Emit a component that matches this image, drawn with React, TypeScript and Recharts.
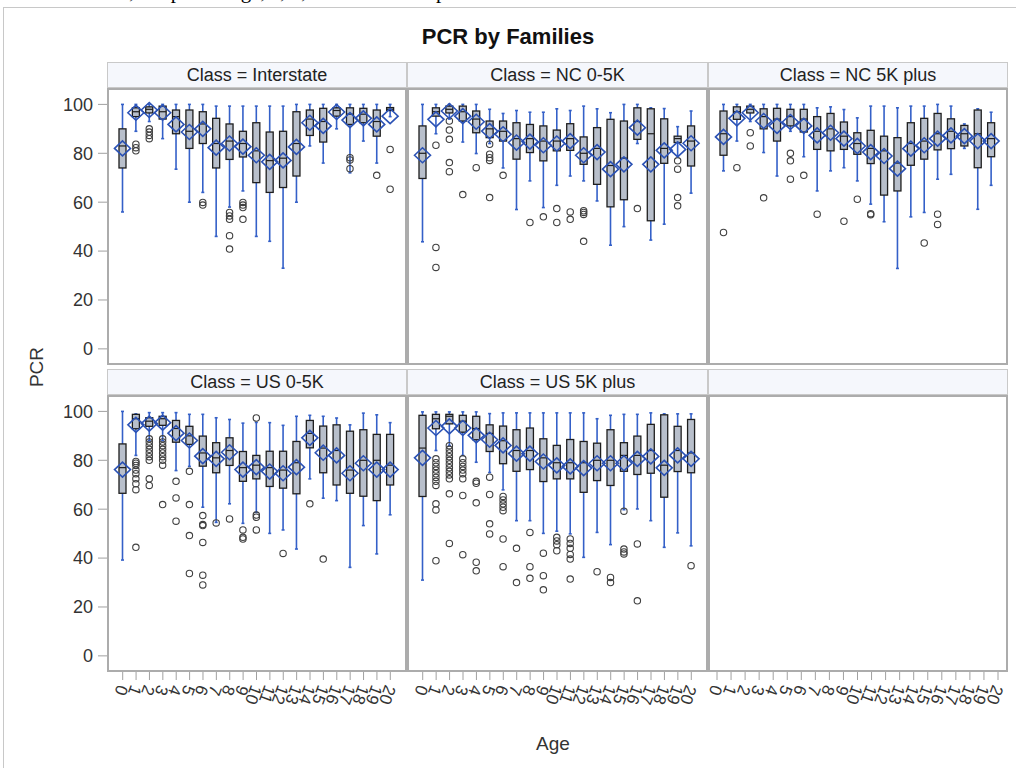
import { ComposedChart, Bar, XAxis, YAxis } from "recharts";

const FONT = "'Liberation Sans', Arial, sans-serif";

const AGES = [
  "0", "1", "2", "3", "4", "5", "6", "7", "8", "9", "10",
  "11", "12", "13", "14", "15", "16", "17", "18", "19", "20",
];
const Y_TICKS = [0, 20, 40, 60, 80, 100];
const CLASSES = ["Interstate", "NC 0-5K", "NC 5K plus", "US 0-5K", "US 5K plus"];

// each row: [low whisker, q1, median, q3, high whisker, mean]
const INTERSTATE_BOX = [
  [56, 74, 83, 90, 100, 82], [89, 95, 97, 98.6, 100, 96.6], [93, 96.5, 98, 99, 100, 97.7],
  [86, 94, 97, 99.3, 100, 96.6], [73.5, 88, 95, 97.7, 100, 91.8], [60, 82, 89, 97.7, 100, 88.7],
  [64, 84, 92, 97, 100, 90], [46, 74, 84, 94.3, 99.3, 82.3], [58, 77.5, 85, 92, 99.3, 84],
  [64.6, 78.5, 84, 89, 99.3, 82.7], [46, 68, 81, 92.5, 99.3, 79.2], [44, 64, 77, 88.7, 99.3, 76.5],
  [33, 66, 78, 89, 99.3, 77.1], [60, 70.7, 84, 97, 100, 82.6], [83, 87.3, 94, 97.7, 100, 92.5],
  [76, 84.6, 93, 98.4, 100, 91.2], [90, 95.2, 97.5, 98.6, 100, 96.9], [72, 91.8, 96, 98.6, 100, 93.6],
  [85, 92.5, 96, 98.4, 100, 94.3], [76, 87, 93, 97.7, 100, 91.8], [95, 97.5, 98, 98.7, 100, 95.2],
];
const INTERSTATE_OUT = [
  [], [83.7, 82.3, 81], [90, 88.7, 87.3, 86], [], [], [], [59.9, 58.8], [],
  [55.8, 54.4, 53, 46.3, 40.8], [59.9, 58.8, 57.8, 53], [], [], [], [], [], [], [],
  [78.2, 77.3, 73.7], [], [71], [81.6, 65.3],
];

const NC_SMALL_BOX = [
  [43.8, 69.7, 80, 91.2, 100, 79.2], [88, 95.2, 97, 98.6, 100, 93.9], [94, 96.5, 98, 99.3, 100, 97.3],
  [84.6, 93.2, 97, 99.3, 100, 95.2], [79.9, 88.4, 94, 97.3, 100, 92.9], [84, 86.4, 90, 93.2, 98, 89.1],
  [74, 85, 89, 93.2, 96.3, 87.8], [57, 77.6, 86, 92.5, 97.5, 84.4], [68.7, 80.3, 86, 91.8, 96.8, 84.8],
  [57.8, 76.9, 85, 91.2, 96.8, 83.3], [66.9, 81, 85, 89.5, 98.2, 84], [70.7, 81.2, 86, 92.1, 97.5, 85],
  [68.7, 75.5, 80, 86.7, 99.3, 79.2], [60.5, 67.3, 82, 90.5, 98.2, 80.5], [42.4, 58.1, 75, 93.9, 96.6, 73.5],
  [50, 61, 78, 93.2, 100, 75.5], [84, 85.7, 93, 98.6, 100, 90.5], [44.5, 52.4, 88, 98.2, 98.6, 75.5],
  [51, 75.9, 82, 94.1, 98.3, 81.2], [79, 84.4, 86, 87, 90.9, 81.6], [63.7, 74.8, 85, 91.2, 97.3, 84.1],
];
const NC_SMALL_OUT = [
  [], [83.3, 41.5, 33.3], [93.2, 89.5, 85.7, 76.2, 72.5], [63.1], [74.1],
  [83.7, 79.6, 78.2, 77.1, 61.9], [71], [], [51.7], [54], [57.4, 51.7], [56, 53],
  [56.5, 55.8, 55, 44], [], [], [], [57.4], [], [], [76.9, 73.5, 61.9, 58.5], [],
];

const NC_LARGE_BOX = [
  [72.8, 79.2, 88, 97.3, 100, 86.7], [85, 93.9, 97, 99, 100, 94.3], [93, 96.5, 98, 99.3, 100, 96.6],
  [80.3, 90, 95, 98.2, 100, 93.2], [70.7, 85, 94, 98.4, 100, 91.2], [89, 91.2, 95, 98, 100, 92.8],
  [78.6, 88.7, 94, 98, 100, 91.2], [64.6, 81.6, 89, 95, 98.6, 87.3], [72.8, 81, 90, 96.3, 99, 88.4],
  [74.1, 81.6, 87, 92.8, 97.9, 86], [68.7, 79.6, 84, 88.4, 94.5, 83], [59.2, 75.8, 82, 89.4, 99.3, 80.5],
  [52, 62.9, 81, 87, 99.3, 78.9], [32.9, 64.6, 76, 86.4, 98.6, 73.7], [54, 75.1, 84, 92.5, 99.3, 81.9],
  [55.8, 77.6, 85, 94.3, 99.3, 83.3], [69.4, 81.4, 88, 96.3, 100, 86], [71.4, 81.9, 89, 94.1, 99.3, 87.3],
  [82, 83, 88, 91.4, 92, 87], [57.1, 74.1, 88, 97.7, 98.2, 85], [66.9, 78.6, 86, 92.5, 96.8, 85],
];
const NC_LARGE_OUT = [
  [47.6], [74.1], [88.4, 83], [61.8], [], [80, 76.9, 69.4], [71], [55.1], [], [52.2],
  [61.2], [55.3, 54.9], [], [], [], [43.3], [55.1, 50.9], [], [], [], [],
];

const US_SMALL_BOX = [
  [39.2, 66.5, 77, 86.7, 100, 76.2], [82, 92.9, 97, 98.8, 99, 94.5], [88, 93.9, 96, 97.4, 99.5, 95],
  [88, 94.3, 97, 98, 99.5, 95.4], [75.8, 87.4, 93, 96.3, 99.5, 91.1], [77.5, 86.5, 90, 93.9, 98.8, 88.1],
  [60.8, 77.6, 83, 89.9, 98.8, 81.7], [54.6, 74.9, 81, 87.2, 97.4, 80.6], [62.2, 77.9, 84, 89.2, 96.7, 83.3],
  [54.2, 71.4, 77, 83.6, 95.2, 76.2], [58.7, 72.4, 78, 82, 95.5, 77.2], [50.1, 69.3, 77, 83.7, 95.4, 75.4],
  [51.5, 68.6, 76, 83.7, 94.3, 74.7], [43.7, 66.3, 79, 87.7, 98, 77.2], [72.4, 85.1, 91, 96.3, 98.4, 89.2],
  [64.5, 74.9, 85, 94, 98, 83.1], [63.5, 69.9, 84, 94.5, 97.3, 82], [36.2, 66.5, 76, 91.9, 94.5, 74.7],
  [53.3, 65.3, 80, 92.5, 99.3, 78.8], [41.7, 63.5, 80, 90.6, 98.6, 76.2], [57.7, 69.9, 78, 90.6, 95.4, 76.2],
];
const US_SMALL_OUT = [
  [], [79.5, 78.8, 77.9, 76, 74.5, 72.4, 70.4, 68, 44.4],
  [88.8, 87.5, 86, 84.5, 83, 81.5, 80, 72.4, 69.7],
  [88.8, 87.5, 86, 84.5, 83, 81.5, 80, 78, 61.9],
  [71.4, 64.6, 55.1], [75.5, 61.9, 49.2, 33.7], [57.4, 53.7, 53.3, 46.4, 33, 29],
  [54.4], [56], [51.5, 48.5, 47.8], [97.3, 57.6, 56.7, 51.5], [], [41.9], [], [62.2], [39.6],
  [], [], [], [], [],
];

const US_LARGE_BOX = [
  [31, 65.2, 85, 98.4, 99.8, 81], [84, 92.9, 97, 98.8, 99.8, 93.2], [86, 94.9, 98, 98.8, 99.8, 93.9],
  [82, 91.5, 96, 98.4, 99.8, 93.2], [79.2, 88.4, 93, 98, 99.8, 90.2], [75, 83.6, 91, 94.5, 99.1, 88.4],
  [67.9, 78.6, 88, 94, 99.4, 86.1], [55.3, 75.5, 84, 92.5, 99.4, 82.7], [55.3, 76.2, 84, 93.2, 99.4, 82.7],
  [50.1, 71.3, 81, 88.8, 99.4, 79.5], [51, 72.4, 79, 86.1, 99.4, 77.9], [49.9, 72.4, 79, 88.5, 99.4, 77.5],
  [40.3, 66.9, 79, 87.7, 99.4, 76.8], [50.5, 71.7, 80, 87, 97, 78.8], [45.5, 69.7, 80, 92.5, 98.4, 78.8],
  [59.8, 75.5, 82, 87.2, 98.8, 78.8], [60.1, 74.2, 82, 89.9, 98.8, 80.6], [55.3, 74.7, 84, 94.7, 99.4, 81.6],
  [44.4, 64.9, 78, 98.6, 99, 76.9], [50.3, 75.4, 84, 93.9, 99, 82], [45, 74.9, 83, 96.7, 99, 80.6],
];
const US_LARGE_OUT = [
  [], [80.6, 79, 77.5, 76, 74.5, 73, 71.4, 69.7, 62.2, 59.7, 38.9],
  [86, 84.5, 83, 81.5, 80, 78.5, 77, 75.5, 74, 72.4, 66.3, 46],
  [80.6, 79, 77.5, 76, 74.5, 72.4, 65.6, 41.4], [71.4, 70.6, 62.6, 38.3, 34.8],
  [73.1, 66, 54, 49.9], [65.2, 63.8, 62.2, 60.8, 59.4, 47.8, 36.5], [44, 30], [50.5, 36.5, 31.7],
  [42, 32.8, 27], [48.5, 47, 45.5, 43], [47.8, 46, 44, 41.5, 39.6, 31.4], [], [34.4], [32.1, 30],
  [59.2, 43.7, 42.5, 41.7], [45.8, 22.5], [], [], [], [36.9],
];

const PANELS = [
  { title: CLASSES[0], box: INTERSTATE_BOX, out: INTERSTATE_OUT },
  { title: CLASSES[1], box: NC_SMALL_BOX, out: NC_SMALL_OUT },
  { title: CLASSES[2], box: NC_LARGE_BOX, out: NC_LARGE_OUT },
  { title: CLASSES[3], box: US_SMALL_BOX, out: US_SMALL_OUT },
  { title: CLASSES[4], box: US_LARGE_BOX, out: US_LARGE_OUT },
  { title: null, box: null, out: null },
];

const Y_DOMAIN = [-6.6, 106.3];
const COL_LEFT = [107, 407, 708];
const COL_W = [300, 301, 300];
const ROW_TOP = [89, 396];
const HEAD_TOP = [62, 369];
const PLOT_H = 276;
const Y_AXIS_W = 107;
const X_AXIS_H = 60;

const WHISKER = "#3460c8";
const MEAN = "#2b52b5";

function BoxShape(props: any) {
  const { x, y, width, height } = props;
  const d = props.payload ?? props;
  if (!d || !d.span) return null;
  const top = Math.min(y, y + height);
  const bottom = Math.max(y, y + height);
  const [lo, hi] = d.span;
  const py = (v: number) => bottom - ((v - lo) / (hi - lo || 1)) * (bottom - top);
  const cx = x + width / 2;
  const bw = width;
  const my = py(d.mean);
  return (
    <g>
      <line x1={cx} x2={cx} y1={py(d.hi)} y2={py(d.lo)} stroke={WHISKER} strokeWidth={1.6} />
      <line x1={cx - 1.5} x2={cx + 1.5} y1={py(d.hi)} y2={py(d.hi)} stroke={WHISKER} strokeWidth={1.6} />
      <line x1={cx - 1.5} x2={cx + 1.5} y1={py(d.lo)} y2={py(d.lo)} stroke={WHISKER} strokeWidth={1.6} />
      <rect
        x={cx - bw / 2}
        y={py(d.q3)}
        width={bw}
        height={Math.max(py(d.q1) - py(d.q3), 1)}
        fill="#b8bfcb"
        stroke="#1e1e1e"
        strokeWidth={1.3}
      />
      <line x1={cx - bw / 2} x2={cx + bw / 2} y1={py(d.med)} y2={py(d.med)} stroke="#1e1e1e" strokeWidth={1.2} />
      {d.out.map((v: number, i: number) => (
        <circle key={i} cx={cx} cy={py(v)} r={3.2} fill="none" stroke="#404040" strokeWidth={1.1} />
      ))}
      <path
        d={`M${cx - 8},${my} L${cx},${my - 7.5} L${cx + 8},${my} L${cx},${my + 7.5} Z`}
        fill="none"
        stroke={MEAN}
        strokeWidth={1.6}
      />
    </g>
  );
}

function AgeTick(props: any) {
  const { x, y, payload } = props;
  return (
    <text
      x={x}
      y={y}
      transform={`rotate(110 ${x} ${y})`}
      textAnchor="start"
      dominantBaseline="central"
      fontSize={17}
      fontFamily={FONT}
      fill="#333"
    >
      {payload.value}
    </text>
  );
}

function Panel({ index }: { index: number }) {
  const p = PANELS[index];
  const col = index % 3;
  const row = Math.floor(index / 3);
  const showY = col === 0;
  const showX = row === 1;
  const rows = AGES.map((age, i) => {
    if (!p.box) return { age };
    const [lo, q1, med, q3, hi, mean] = p.box[i];
    const out = p.out[i];
    const all = [lo, hi, ...out];
    return { age, lo, q1, med, q3, hi, mean, out, span: [Math.min(...all), Math.max(...all)] };
  });
  const left = COL_LEFT[col];
  const w = COL_W[col];
  return (
    <>
      <div
        style={{
          position: "absolute",
          left,
          top: HEAD_TOP[row],
          width: w,
          height: 26,
          boxSizing: "border-box",
          background: "#f5f7fc",
          border: "1px solid #c9c9c9",
          fontFamily: FONT,
          fontSize: 18,
          color: "#222",
          textAlign: "center",
          lineHeight: "24px",
        }}
      >
        {p.title ? `Class = ${p.title}` : ""}
      </div>
      <div style={{ position: "absolute", left: left - (showY ? Y_AXIS_W : 0), top: ROW_TOP[row] }}>
        <ComposedChart
          width={w + (showY ? Y_AXIS_W : 0)}
          height={PLOT_H + (showX ? X_AXIS_H : 0)}
          data={rows}
          margin={{ top: 0, right: 0, bottom: 0, left: 0 }}
          style={{ overflow: "visible" }}
        >
          <XAxis
            dataKey="age"
            type="category"
            interval={0}
            padding={{ left: 9, right: 10 }}
            hide={!showX}
            height={X_AXIS_H}
            axisLine={false}
            tickLine={{ stroke: "#a0a0a0" }}
            tickSize={8}
            tickMargin={6}
            tick={(t: any) => <AgeTick {...t} />}
          />
          <YAxis
            type="number"
            domain={Y_DOMAIN}
            ticks={Y_TICKS}
            allowDataOverflow
            hide={!showY}
            width={Y_AXIS_W}
            axisLine={false}
            tickLine={{ stroke: "#a0a0a0" }}
            tickSize={9}
            tickMargin={5}
            tick={{ fontSize: 18, fill: "#333", fontFamily: FONT }}
          />
          {p.box && (
            <Bar dataKey="span" barSize={7} shape={BoxShape} isAnimationActive={false} />
          )}
        </ComposedChart>
      </div>
      <div
        style={{
          position: "absolute",
          left,
          top: ROW_TOP[row] - 1,
          width: w,
          height: PLOT_H + 1,
          boxSizing: "border-box",
          border: "2px solid #acacac",
          pointerEvents: "none",
        }}
      />
    </>
  );
}

export default function App() {
  return (
    <div
      style={{
        position: "absolute",
        left: 0,
        top: 0,
        width: 1016,
        height: 768,
        overflow: "hidden",
        background: "#fff",
      }}
    >
      <div
        style={{
          position: "absolute",
          left: 22,
          top: -21,
          fontFamily: "'Liberation Serif', serif",
          fontSize: 21,
          whiteSpace: "nowrap",
        }}
      >
        for US value, the plot of age, a, b, and the model parameters.
      </div>
      <div
        style={{
          position: "absolute",
          left: 3,
          top: 7,
          width: 1030,
          height: 780,
          border: "1px solid #c8c8c8",
        }}
      />
      <div
        style={{
          position: "absolute",
          left: 0,
          width: 1016,
          top: 24,
          textAlign: "center",
          fontFamily: FONT,
          fontWeight: "bold",
          fontSize: 22,
          color: "#111",
        }}
      >
        PCR by Families
      </div>
      {PANELS.map((_, i) => (
        <Panel key={i} index={i} />
      ))}
      <div
        style={{
          position: "absolute",
          left: 536,
          top: 733,
          fontFamily: FONT,
          fontSize: 19,
          color: "#333",
        }}
      >
        Age
      </div>
      <div
        style={{
          position: "absolute",
          left: 37,
          top: 367,
          transform: "translate(-50%, -50%) rotate(-90deg)",
          fontFamily: FONT,
          fontSize: 19,
          color: "#333",
        }}
      >
        PCR
      </div>
    </div>
  );
}
